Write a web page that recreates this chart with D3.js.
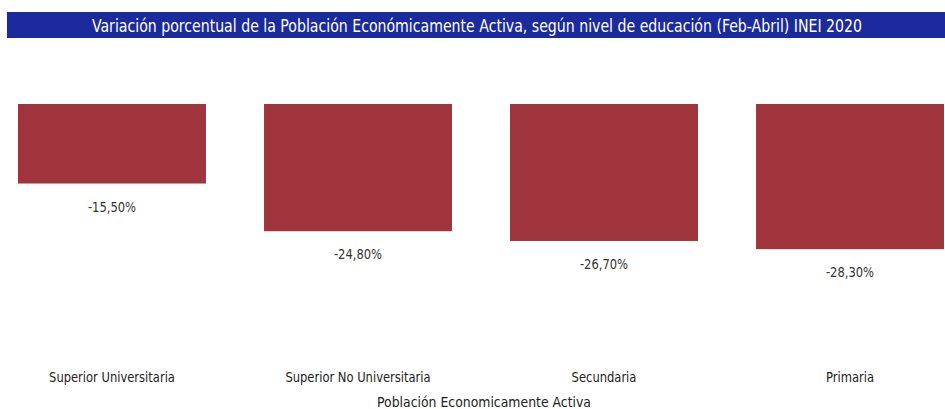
<!DOCTYPE html>
<html><head><meta charset="utf-8">
<script src="https://cdn.jsdelivr.net/npm/d3@7"></script>
<style>body{margin:0;background:#fff;} svg{display:block;}</style>
</head><body>
<svg id="chart" width="945" height="409"></svg>
<script>
const title = "Variación porcentual de la Población Económicamente Activa, según nivel de educación (Feb-Abril) INEI 2020";
const categories = ["Superior Universitaria", "Superior No Universitaria", "Secundaria", "Primaria"];
const values = [-15.5, -24.8, -26.7, -28.3];
const axisTitle = "Población Economicamente Activa";

const svg = d3.select("#chart");
const W = 945, H = 409;
const font = "'DejaVu Sans Condensed', 'DejaVu Sans', sans-serif";

// title banner
svg.append("rect").attr("x", 7).attr("y", 12).attr("width", W - 7).attr("height", 26).attr("fill", "#1b2a9c");
svg.append("text").attr("x", 477).attr("y", 0).attr("text-anchor", "middle")
  .attr("transform", "translate(0,31.5) scale(1,1.12)")
  .attr("font-family", font).attr("font-size", 16).attr("fill", "#fff")
  .attr("textLength", 770).attr("lengthAdjust", "spacingAndGlyphs")
  .text(title);

const x = d3.scaleBand().domain(categories).range([18, 944]).paddingInner(0.236).paddingOuter(0);
const y = d3.scaleLinear().domain([0, -50]).range([104, 104 + 50 * 5.13]);

const fmt = v => d3.format(".2f")(v).replace(".", ",").replace("−", "-") + "%";

svg.append("g").selectAll("rect").data(values).join("rect")
  .attr("x", (d, i) => x(categories[i]))
  .attr("y", y(0))
  .attr("width", x.bandwidth())
  .attr("height", d => y(d) - y(0))
  .attr("fill", "#a0343c");

svg.append("g").selectAll("text").data(values).join("text")
  .attr("x", (d, i) => x(categories[i]) + x.bandwidth() / 2)
  .attr("y", d => y(d) + 28)
  .attr("text-anchor", "middle")
  .attr("font-family", font).attr("font-size", 13.5).attr("fill", "#333")
  .attr("transform", (d, i) => { const cx = x(categories[i]) + x.bandwidth() / 2; return `translate(${cx},0) scale(0.95,1) translate(${-cx},0)`; })
  .text(d => fmt(d));

// category axis
const xAxis = d3.axisBottom(x).tickSize(0).tickPadding(0);
const gx = svg.append("g").attr("transform", "translate(0,372)").call(xAxis);
gx.select(".domain").remove();
gx.selectAll("text").attr("font-family", font).attr("font-size", 13.5).attr("fill", "#222").attr("dy", "0.71em")
  .attr("transform", "scale(0.95,1)");

svg.append("text").attr("x", 484).attr("y", 407).attr("text-anchor", "middle")
  .attr("font-family", font).attr("font-size", 13.5).attr("fill", "#222")
  .attr("textLength", 214).attr("lengthAdjust", "spacingAndGlyphs")
  .text(axisTitle);
</script>
</body></html>
